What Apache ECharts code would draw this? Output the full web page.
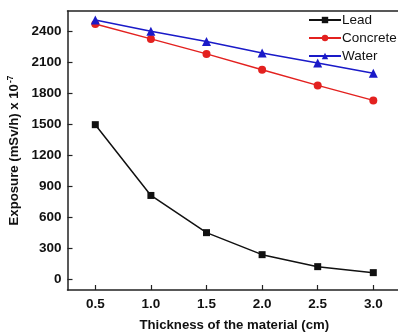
<!DOCTYPE html>
<html>
<head>
<meta charset="utf-8">
<script src="https://cdn.jsdelivr.net/npm/echarts@6/dist/echarts.min.js"></script>
<style>
  html, body { margin: 0; padding: 0; background: #fff; overflow: hidden; }
  #chart { width: 412px; height: 333px; }
</style>
</head>
<body>
<div id="chart"></div>
<script>
// Dose exposure behind different shielding materials
const thickness = [0.5, 1.0, 1.5, 2.0, 2.5, 3.0];
const lead = [1500, 815, 455, 242, 126, 68];
const concrete = [2474, 2330, 2185, 2032, 1880, 1735];
const water = [2512, 2403, 2305, 2194, 2097, 1997];
const yTicks = [0, 300, 600, 900, 1200, 1500, 1800, 2100, 2400];

const pairs = (ys) => thickness.map((x, i) => [x, ys[i]]);

const chart = echarts.init(document.getElementById('chart'));
const FONT = 'Liberation Sans, Arial, sans-serif';
const tickFont = { fontFamily: FONT, fontWeight: 'bold', fontSize: 13.5, color: '#111' };
const titleFont = { fontFamily: FONT, fontWeight: 'bold', fontSize: 13.2, color: '#111' };
const frameLine = () => ({ onZero: false, lineStyle: { color: '#222', width: 1.5 } });

chart.setOption({
  animation: false,
  grid: { left: 67.5, top: 11, width: 333.6, height: 279, outerBoundsMode: 'none' },
  legend: {
    orient: 'vertical', left: 303, top: 8, itemGap: 4, itemWidth: 32, itemHeight: 8,
    textStyle: { fontFamily: FONT, fontSize: 13.5, color: '#111', padding: [0, 0, 0, -4] },
    data: ['Lead', 'Concrete', 'Water']
  },
  xAxis: [
    {
      type: 'value', min: 0.25, max: 3.25,
      axisLine: frameLine(),
      axisTick: { inside: true, length: 5, lineStyle: { color: '#222', width: 1.2 }, customValues: thickness },
      splitLine: { show: false },
      axisLabel: Object.assign({ margin: 7, customValues: thickness, formatter: (v) => Number(v).toFixed(1) }, tickFont),
      name: 'Thickness of the material (cm)', nameLocation: 'middle', nameGap: 29,
      nameTextStyle: titleFont
    },
    {
      // frame line along the top of the plot
      type: 'value', position: 'top', min: 0.25, max: 3.25,
      axisLine: frameLine(),
      axisTick: { show: false }, axisLabel: { show: false }, splitLine: { show: false }
    }
  ],
  yAxis: {
    type: 'value', min: -100, max: 2600,
    axisLine: frameLine(),
    axisTick: { inside: true, length: 5, lineStyle: { color: '#222', width: 1.2 }, customValues: yTicks },
    axisLabel: Object.assign({ margin: 6, customValues: yTicks, formatter: (v) => String(v) }, tickFont),
    splitLine: { show: false },
    name: 'Exposure (mSv/h) x 10{sup|-7}', nameLocation: 'middle', nameGap: 44,
    nameTextStyle: Object.assign({}, titleFont, {
      rich: { sup: { fontSize: 8.5, fontWeight: 'bold', fontFamily: FONT, color: '#111', verticalAlign: 'top', padding: [0, 0, 6, 1] } }
    })
  },
  series: [
    { name: 'Lead', type: 'line', data: pairs(lead), symbol: 'rect', symbolSize: 7,
      lineStyle: { color: '#111', width: 1.5 }, itemStyle: { color: '#111' } },
    { name: 'Concrete', type: 'line', data: pairs(concrete), symbol: 'circle', symbolSize: 8,
      lineStyle: { color: '#e3211f', width: 1.5 }, itemStyle: { color: '#e3211f' } },
    { name: 'Water', type: 'line', data: pairs(water), symbol: 'triangle', symbolSize: 9,
      lineStyle: { color: '#1a1ac8', width: 1.5 }, itemStyle: { color: '#1a1ac8' } }
  ]
});
</script>
</body>
</html>
